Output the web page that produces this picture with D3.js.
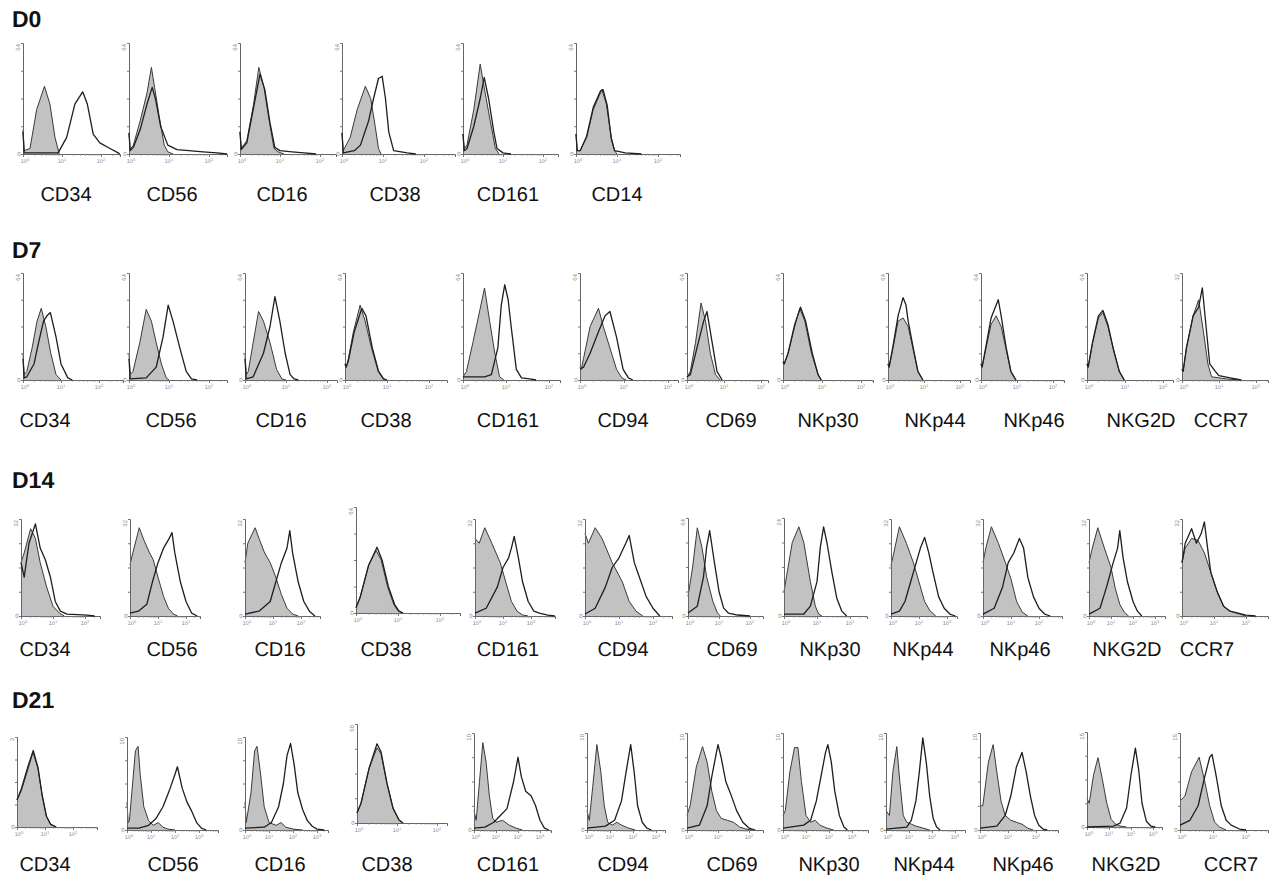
<!DOCTYPE html>
<html><head><meta charset="utf-8">
<script src="https://cdn.jsdelivr.net/npm/d3@7"></script>
<style>body{margin:0;background:#fff}svg{display:block}text{text-rendering:geometricPrecision}</style>
</head><body>
<svg id="chart" width="1272" height="875"></svg>
<script>
// ---------- DATA (log10 fluorescence, % of y-axis max) ----------
const rowNames = ["D0", "D7", "D14", "D21"];
const markersD0 = ["CD34", "CD56", "CD16", "CD38", "CD161", "CD14"];
const markersLate = ["CD34", "CD56", "CD16", "CD38", "CD161", "CD94", "CD69", "NKp30", "NKp44", "NKp46", "NKG2D", "CCR7"];

const yMaxD0 = ["64", "64", "64", "64", "64", "64"];
const yMaxD7 = ["64", "64", "64", "64", "64", "64", "64", "64", "64", "64", "64", "32"];
const yMaxD14 = ["32", "32", "32", "64", "32", "32", "64", "24", "32", "32", "32", "32"];
const yMaxD21 = ["3", "10", "10", "60", "10", "10", "10", "10", "10", "10", "15", "15"];

const isoD0 = [
  [[0,22],[0.03,3],[0.18,5],[0.35,40],[0.55,61],[0.69,45],[0.82,15],[0.93,0]],
  [[0,19],[0.03,4],[0.11,8],[0.28,30],[0.45,55],[0.56,78],[0.64,60],[0.75,35],[0.88,8],[0.97,2],[1.1,0]],
  [[0,20],[0.03,5],[0.17,12],[0.34,45],[0.47,78],[0.6,60],[0.73,30],[0.85,5],[0.95,2],[1.1,0]],
  [[0,19],[0.03,3],[0.2,15],[0.37,40],[0.57,61],[0.7,50],[0.81,25],[0.89,5],[0.95,0]],
  [[0,18],[0.03,5],[0.1,8],[0.27,40],[0.43,81],[0.53,60],[0.68,30],[0.81,5],[0.9,0]],
  [[0,18],[0.03,3],[0.1,3],[0.26,15],[0.42,40],[0.63,58],[0.74,45],[0.86,15],[0.94,3],[1.0,0]]
];
const stainD0 = [
  [[0,20],[0.03,1],[0.9,1],[1.12,15],[1.33,45],[1.53,56],[1.65,45],[1.8,18],[1.97,10],[2.23,5],[2.44,1],[2.48,0]],
  [[0,19],[0.03,3],[0.11,6],[0.28,22],[0.45,45],[0.58,60],[0.66,50],[0.79,25],[0.97,8],[1.2,4],[1.5,3],[1.85,2],[2.2,1],[2.45,0]],
  [[0,20],[0.03,4],[0.17,10],[0.34,42],[0.5,72],[0.62,58],[0.75,28],[0.87,6],[1.0,3],[1.3,2],[1.6,1],[1.9,0]],
  [[0,19],[0.03,1],[0.3,3],[0.45,8],[0.65,30],[0.77,50],[0.89,68],[0.98,70],[1.06,50],[1.14,20],[1.26,3],[1.59,1],[1.8,0]],
  [[0,18],[0.03,3],[0.1,5],[0.27,25],[0.43,50],[0.53,69],[0.64,50],[0.77,20],[0.85,5],[1.0,1],[1.2,0]],
  [[0,18],[0.03,3],[0.1,3],[0.26,16],[0.42,42],[0.6,57],[0.66,58],[0.76,44],[0.86,14],[0.94,3],[1.2,1],[1.6,0]]
];

const isoD7 = [
  [[0,25],[0.03,5],[0.1,8],[0.24,30],[0.37,55],[0.48,67],[0.6,50],[0.73,25],[0.87,5],[1.0,0]],
  [[0,25],[0.03,5],[0.1,8],[0.27,35],[0.43,66],[0.56,55],[0.68,35],[0.81,15],[0.93,2],[1.0,0]],
  [[0,25],[0.03,5],[0.08,8],[0.2,35],[0.33,64],[0.45,55],[0.61,35],[0.77,10],[0.9,1],[1.0,0]],
  [[0,15],[0.03,12],[0.08,20],[0.2,45],[0.36,70],[0.48,55],[0.63,30],[0.79,8],[0.91,1],[1.0,0]],
  [[0,3],[0.08,8],[0.23,35],[0.39,65],[0.5,86],[0.62,55],[0.74,25],[0.85,3],[0.95,0]],
  [[0,12],[0.03,10],[0.08,20],[0.23,50],[0.42,67],[0.53,50],[0.68,30],[0.83,10],[0.95,2],[1.05,0]],
  [[0,3],[0.09,8],[0.23,35],[0.38,72],[0.5,55],[0.63,25],[0.77,5],[0.9,0]],
  [[0,17],[0.03,15],[0.13,25],[0.3,50],[0.43,67],[0.56,55],[0.73,25],[0.9,5],[0.98,0]],
  [[0,15],[0.03,12],[0.14,30],[0.28,55],[0.42,58],[0.56,50],[0.69,30],[0.83,8],[0.97,0]],
  [[0,15],[0.03,12],[0.14,30],[0.28,52],[0.42,60],[0.56,50],[0.69,30],[0.83,8],[0.97,0]],
  [[0,15],[0.03,12],[0.15,35],[0.3,58],[0.42,63],[0.55,50],[0.7,28],[0.85,8],[0.98,0]],
  [[0,10],[0.03,8],[0.12,30],[0.3,60],[0.45,75],[0.58,45],[0.7,15],[0.8,3],[1.2,1],[1.6,0]]
];
const stainD7 = [
  [[0,20],[0.03,2],[0.1,3],[0.29,15],[0.41,35],[0.54,55],[0.63,60],[0.72,63],[0.87,40],[1.0,15],[1.18,2],[1.3,0]],
  [[0,20],[0.03,1],[0.43,2],[0.68,12],[0.85,40],[0.98,70],[1.1,55],[1.27,30],[1.43,8],[1.56,1],[1.7,0]],
  [[0,20],[0.03,1],[0.2,3],[0.45,25],[0.61,50],[0.73,78],[0.85,55],[0.98,25],[1.1,5],[1.2,1],[1.3,0]],
  [[0,15],[0.03,12],[0.08,18],[0.22,45],[0.4,67],[0.5,60],[0.65,30],[0.8,8],[0.92,1],[1.0,0]],
  [[0,3],[0.5,3],[0.66,5],[0.81,30],[0.89,70],[0.97,89],[1.05,75],[1.12,50],[1.24,10],[1.36,2],[1.55,1],[1.7,0]],
  [[0,10],[0.08,12],[0.23,25],[0.42,45],[0.57,60],[0.68,64],[0.83,40],[0.98,10],[1.1,2],[1.2,0]],
  [[0,3],[0.09,5],[0.27,30],[0.45,55],[0.54,64],[0.68,35],[0.81,8],[0.95,0]],
  [[0,17],[0.03,15],[0.13,25],[0.3,52],[0.45,68],[0.58,55],[0.75,25],[0.9,5],[0.98,0]],
  [[0,15],[0.03,12],[0.14,32],[0.28,60],[0.42,77],[0.5,70],[0.56,55],[0.69,32],[0.83,8],[0.97,0]],
  [[0,15],[0.03,12],[0.14,32],[0.28,58],[0.48,75],[0.56,60],[0.69,32],[0.83,8],[0.97,0]],
  [[0,15],[0.03,12],[0.15,36],[0.3,60],[0.42,65],[0.55,52],[0.7,28],[0.85,8],[0.98,0]],
  [[0,10],[0.03,8],[0.12,30],[0.3,60],[0.45,68],[0.55,86],[0.65,50],[0.75,15],[0.9,8],[1.0,4],[1.3,2],[1.6,0]]
];

const isoD14 = [
  [[0,55],[0.1,65],[0.3,90],[0.45,80],[0.6,55],[0.8,30],[1.0,10],[1.2,3],[1.35,0]],
  [[0,53],[0.1,65],[0.33,91],[0.5,78],[0.7,65],[0.83,58],[1.0,40],[1.2,20],[1.37,8],[1.55,2],[1.7,0]],
  [[0,55],[0.1,75],[0.36,91],[0.5,80],[0.7,65],[0.9,55],[1.1,40],[1.3,22],[1.5,8],[1.7,2],[1.9,0]],
  [[0,5],[0.1,15],[0.3,45],[0.48,59],[0.6,50],[0.75,25],[0.9,8],[1.0,2],[1.1,0]],
  [[0,80],[0.15,75],[0.35,91],[0.6,75],[0.9,55],[1.1,35],[1.3,15],[1.5,5],[1.7,1],[1.9,0]],
  [[0,85],[0.1,75],[0.3,91],[0.5,80],[0.8,55],[1.1,35],[1.3,15],[1.5,5],[1.7,0]],
  [[0,20],[0.15,50],[0.3,90],[0.45,70],[0.6,40],[0.8,15],[0.95,3],[1.05,0]],
  [[0,25],[0.1,45],[0.25,75],[0.45,91],[0.6,75],[0.8,35],[0.95,10],[1.05,2],[1.15,0]],
  [[0,52],[0.1,65],[0.3,92],[0.55,75],[0.8,55],[1.0,35],[1.2,15],[1.4,5],[1.6,0]],
  [[0,55],[0.1,70],[0.3,92],[0.55,75],[0.8,55],[1.0,38],[1.2,15],[1.4,4],[1.6,0]],
  [[0,55],[0.15,70],[0.4,91],[0.7,70],[1.0,50],[1.2,28],[1.4,12],[1.6,4],[1.8,0]],
  [[0,55],[0.1,70],[0.3,80],[0.5,78],[0.7,65],[0.9,45],[1.1,25],[1.3,10],[1.5,5],[1.8,2],[2.0,0]]
];
const stainD14 = [
  [[0,55],[0.1,40],[0.25,75],[0.45,95],[0.6,70],[0.76,58],[0.92,40],[1.07,15],[1.23,5],[1.44,2],[2.06,1],[2.3,0]],
  [[0,3],[0.3,5],[0.6,12],[0.8,35],[1.0,55],[1.2,70],[1.4,80],[1.5,86],[1.6,65],[1.8,35],[2.0,15],[2.2,3],[2.4,0]],
  [[0,2],[0.5,5],[0.9,15],[1.1,35],[1.3,55],[1.5,70],[1.6,88],[1.7,65],[1.9,35],[2.1,15],[2.3,5],[2.5,0]],
  [[0,5],[0.1,15],[0.3,45],[0.5,62],[0.62,50],[0.77,25],[0.92,8],[1.02,2],[1.12,0]],
  [[0,3],[0.4,8],[0.8,30],[1.0,50],[1.2,60],[1.3,70],[1.4,82],[1.55,60],[1.7,35],[1.9,15],[2.1,5],[2.3,3],[2.6,1],[2.85,0]],
  [[0,2],[0.3,8],[0.6,30],[0.8,50],[1.0,60],[1.2,75],[1.3,83],[1.45,55],[1.6,40],[1.8,20],[2.0,8],[2.2,0]],
  [[0,3],[0.3,10],[0.5,40],[0.6,70],[0.7,87],[0.85,55],[1.0,25],[1.15,8],[1.3,3],[1.6,1],[2.0,0]],
  [[0,2],[0.6,2],[0.8,10],[1.0,35],[1.1,70],[1.2,91],[1.3,75],[1.45,45],[1.6,18],[1.75,5],[1.9,0]],
  [[0,2],[0.3,5],[0.5,15],[0.7,35],[0.9,55],[1.05,70],[1.2,81],[1.35,65],[1.5,45],[1.7,20],[1.9,8],[2.1,2],[2.3,0]],
  [[0,2],[0.4,8],[0.7,30],[0.9,55],[1.1,65],[1.3,80],[1.45,70],[1.6,40],[1.8,20],[2.0,8],[2.2,2],[2.4,0]],
  [[0,2],[0.5,8],[0.8,30],[1.1,55],[1.3,70],[1.4,88],[1.55,60],[1.75,35],[2.0,15],[2.2,5],[2.4,0]],
  [[0,55],[0.1,75],[0.3,90],[0.45,75],[0.6,85],[0.7,97],[0.8,70],[0.9,45],[1.1,25],[1.3,10],[1.5,5],[2.0,1],[2.3,0]]
];

const isoD21 = [
  [[0,30],[0.15,40],[0.4,65],[0.57,83],[0.75,65],[0.9,35],[1.05,12],[1.2,3],[1.4,0]],
  [[0,30],[0.05,8],[0.1,10],[0.2,40],[0.35,85],[0.46,90],[0.55,60],[0.7,25],[0.9,10],[1.1,5],[1.3,8],[1.5,3],[1.7,1],[2.0,0]],
  [[0,30],[0.05,8],[0.25,40],[0.4,85],[0.5,90],[0.65,60],[0.8,25],[1.0,8],[1.3,5],[1.5,8],[1.7,3],[2.0,1],[2.4,0]],
  [[0,10],[0.1,20],[0.3,55],[0.5,76],[0.6,70],[0.75,40],[0.9,15],[1.05,3],[1.15,0]],
  [[0,20],[0.1,10],[0.25,50],[0.4,90],[0.55,70],[0.7,35],[0.85,12],[1.0,8],[1.3,10],[1.6,5],[1.9,2],[2.2,0]],
  [[0,20],[0.1,10],[0.25,45],[0.43,88],[0.6,60],[0.75,25],[0.9,8],[1.1,5],[1.3,8],[1.5,5],[1.8,2],[2.1,0]],
  [[0,15],[0.1,25],[0.3,65],[0.5,86],[0.65,70],[0.8,40],[0.95,20],[1.1,12],[1.3,10],[1.5,8],[1.7,3],[1.9,1],[2.1,0]],
  [[0,15],[0.1,20],[0.3,60],[0.5,85],[0.65,85],[0.8,50],[1.0,15],[1.2,8],[1.4,10],[1.6,5],[1.9,2],[2.2,0]],
  [[0,20],[0.15,15],[0.3,60],[0.47,86],[0.6,50],[0.75,15],[0.9,8],[1.1,6],[1.3,4],[1.6,2],[1.9,0]],
  [[0,25],[0.1,25],[0.3,70],[0.47,88],[0.6,60],[0.75,30],[0.9,15],[1.1,10],[1.3,8],[1.5,6],[1.7,2],[1.9,0]],
  [[0,30],[0.1,25],[0.3,55],[0.5,73],[0.7,50],[0.9,25],[1.1,8],[1.3,3],[1.5,1],[1.8,0]],
  [[0,30],[0.15,35],[0.35,60],[0.58,75],[0.75,50],[0.9,25],[1.05,8],[1.2,3],[1.4,0]]
];
const stainD21 = [
  [[0,30],[0.15,42],[0.4,68],[0.58,85],[0.75,66],[0.9,35],[1.05,12],[1.2,3],[1.4,0]],
  [[0,2],[0.5,2],[0.9,5],[1.2,12],[1.5,25],[1.8,45],[2.0,60],[2.1,68],[2.3,45],[2.5,30],[2.7,20],[2.9,8],[3.1,2],[3.3,0]],
  [[0,2],[0.8,3],[1.1,8],[1.4,25],[1.6,50],[1.75,80],[1.9,93],[2.05,70],[2.2,40],[2.4,22],[2.6,10],[2.8,4],[3.0,1],[3.3,0]],
  [[0,10],[0.1,20],[0.3,55],[0.5,80],[0.6,72],[0.75,40],[0.9,15],[1.05,3],[1.15,0]],
  [[0,2],[0.5,3],[0.9,8],[1.2,15],[1.5,22],[1.8,50],[2.0,75],[2.15,55],[2.35,40],[2.6,35],[2.8,25],[3.0,10],[3.2,2],[3.4,0]],
  [[0,2],[0.8,4],[1.2,10],[1.5,30],[1.7,60],[1.9,88],[2.05,60],[2.2,25],[2.4,8],[2.6,2],[2.8,0]],
  [[0,2],[0.4,5],[0.65,25],[0.8,55],[0.95,80],[1.0,88],[1.1,75],[1.25,50],[1.4,38],[1.6,20],[1.8,8],[2.0,2],[2.2,0]],
  [[0,2],[0.9,5],[1.2,10],[1.45,30],[1.65,55],[1.85,80],[1.95,88],[2.1,70],[2.25,40],[2.45,15],[2.65,3],[2.8,0]],
  [[0,1],[0.9,3],[1.1,10],[1.3,30],[1.45,60],[1.6,95],[1.75,70],[1.9,35],[2.05,12],[2.2,3],[2.35,0]],
  [[0,2],[0.6,4],[0.9,15],[1.1,35],[1.3,65],[1.5,80],[1.65,60],[1.8,35],[1.95,15],[2.1,5],[2.25,1],[2.4,0]],
  [[0,0],[1.2,1],[1.5,4],[1.8,20],[2.0,55],[2.2,83],[2.35,60],[2.5,25],[2.7,6],[2.9,1],[3.1,0]],
  [[0,5],[0.3,10],[0.55,25],[0.75,55],[0.9,75],[0.97,78],[1.1,55],[1.25,25],[1.4,10],[1.55,5],[1.8,1],[2.0,0]]
];

// ---------- LAYOUT (pixels): [axisX, axisWidth, pxPerDecade, labelCenterX, axisTop, axisBase] ----------
const layoutD0 = [
  [23,97,39,66,43,154],[129,98,40,172,43,154],[240,96,40,282,43,154],
  [342,113,41,395,43,154],[463,95,40,508,43,154],[576,104,41,617,43,154]
];
const layoutD7 = [
  [23,100,38,45,273,380],[129,98,40,171,273,380],[245,92,41,281,273,380],[345,102,42,386,273,380],
  [463,97,43,508,273,380],[580,98,44,623,273,380],[687,81,37,731,273,380],[783,90,39,828,273,380],
  [888,82,36,935,273,380],[981,83,36,1034,273,380],[1087,86,38,1141,273,380],[1182,86,37,1221,273,380]
];
const layoutD14 = [
  [21,79,32,45,519,616],[130,70,28,172,519,616],[245,75,28,280,519,616],[356,104,42,386,507,613],
  [475,80,28,508,519,616],[585,87,34,623,519,616],[688,75,31,732,518,616],[784,83,33,830,518,616],
  [891,66,28,923,519,616],[983,79,28,1020,519,616],[1089,76,22,1127,519,616],[1182,86,32,1207,519,616]
];
const layoutD21 = [
  [17,80,28,45,737,827],[127,91,24,173,737,830],[245,83,24,280,737,830],[357,90,40,387,724,823],
  [474,77,22,508,733,830],[587,78,23,623,733,830],[687,76,31,732,733,830],[783,85,23,829,733,830],
  [886,79,23,924,733,830],[980,78,28,1023,733,830],[1087,75,22,1126,732,827],[1180,88,33,1231,733,830]
];
const rowTitleY = [27, 258, 488, 708];
const rowLabelY = [201, 427, 656, 871];

// ---------- DRAW ----------
const svg = d3.select("#chart");
const rows = [
  {markers: markersD0, iso: isoD0, stain: stainD0, ymax: yMaxD0, layout: layoutD0},
  {markers: markersLate, iso: isoD7, stain: stainD7, ymax: yMaxD7, layout: layoutD7},
  {markers: markersLate, iso: isoD14, stain: stainD14, ymax: yMaxD14, layout: layoutD14},
  {markers: markersLate, iso: isoD21, stain: stainD21, ymax: yMaxD21, layout: layoutD21}
];
const FONT = "'Liberation Sans', Arial, Helvetica, sans-serif";

rows.forEach((row, ri) => {
  const g = svg.append("g");
  g.append("text").attr("x", 12).attr("y", rowTitleY[ri])
    .attr("font-family", FONT).attr("font-weight", "bold").attr("font-size", 23)
    .attr("fill", "#111").text(rowNames[ri]);

  row.markers.forEach((m, i) => {
    const [x0, w, dpx, lcx, top, base] = row.layout[i];
    const dmax = w / dpx;
    const x = d3.scaleLinear().domain([0, dmax]).range([x0, x0 + w]);
    const y = d3.scaleLinear().domain([0, 100]).range([base, top]);
    const p = g.append("g");

    // isotype (filled grey)
    const area = d3.area().x(d => x(d[0])).y0(base).y1(d => y(d[1]));
    const line = d3.line().x(d => x(d[0])).y(d => y(d[1]));
    p.append("path").datum(row.iso[i]).attr("d", area).attr("fill", "#c2c2c2");
    p.append("path").datum(row.iso[i]).attr("d", line)
      .attr("fill", "none").attr("stroke", "#3a3a3a").attr("stroke-width", 1);

    // axes
    const xAxis = d3.axisBottom(x).tickValues(d3.range(0, Math.floor(dmax) + 1)).tickSize(3).tickFormat("");
    const xa = p.append("g").attr("transform", `translate(0,${base})`).call(xAxis);
    xa.select(".domain").attr("stroke", "#666");
    xa.selectAll(".tick line").attr("stroke", "#777");
    const minor = [];
    for (let k = 0; k <= Math.floor(dmax); k++) for (let mm = 2; mm <= 9; mm++) {
      const v = k + Math.log10(mm); if (v < dmax) minor.push(v);
    }
    p.append("g").selectAll("line").data(minor).join("line")
      .attr("x1", d => x(d)).attr("x2", d => x(d)).attr("y1", base).attr("y2", base + 1.8)
      .attr("stroke", "#888").attr("stroke-width", 0.8);
    const yAxis = d3.axisLeft(y).tickValues([0, 25, 50, 75, 100]).tickSize(2).tickFormat("");
    const ya = p.append("g").attr("transform", `translate(${x0},0)`).call(yAxis);
    ya.select(".domain").attr("stroke", "#666");
    ya.selectAll(".tick line").attr("stroke", "#777");

    // tick labels
    const tl = p.append("g").attr("font-family", FONT).attr("fill", "#8a8a8a");
    d3.range(0, Math.floor(dmax - 0.15) + 1).forEach(k => {
      const t = tl.append("text").attr("x", x(k) + (k === 0 ? 2 : 0)).attr("y", base + 9)
        .attr("text-anchor", "middle").attr("font-size", 5.5);
      t.append("tspan").text("10");
      t.append("tspan").attr("dy", -2.5).attr("font-size", 4).text(k);
    });
    tl.append("text").attr("x", x0 - 4).attr("y", base + 2).attr("text-anchor", "middle")
      .attr("font-size", 6).text("0");
    tl.append("text").attr("transform", `translate(${x0 - 3},${top + 1}) rotate(-90)`)
      .attr("text-anchor", "end").attr("font-size", 6).text(row.ymax[i]);

    // stained (open line)
    p.append("path").datum(row.stain[i]).attr("d", line)
      .attr("fill", "none").attr("stroke", "#1e1e1e").attr("stroke-width", 1.3)
      .attr("stroke-linejoin", "round");

    // marker label
    g.append("text").attr("x", lcx).attr("y", rowLabelY[ri]).attr("text-anchor", "middle")
      .attr("font-family", FONT).attr("font-size", 20).attr("fill", "#111").text(m);
  });
});
</script>
</body></html>
